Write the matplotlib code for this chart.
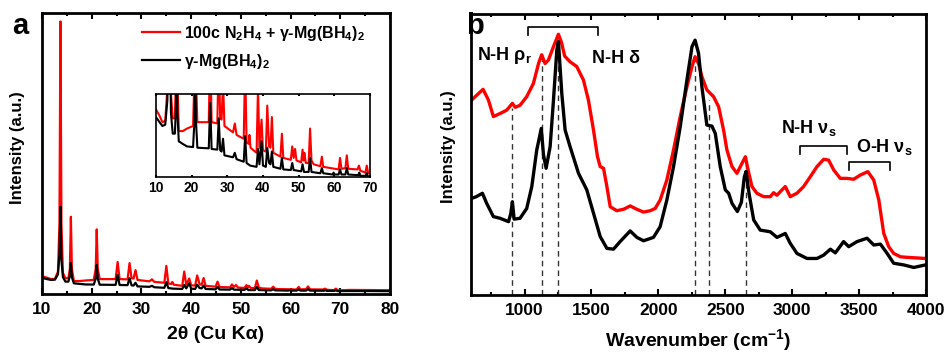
import matplotlib
matplotlib.use("Agg")
import matplotlib.pyplot as plt
from matplotlib.ticker import MultipleLocator

plt.rcParams['font.family'] = ['Liberation Sans', 'DejaVu Sans']
plt.rcParams['font.weight'] = 'bold'
plt.rcParams['mathtext.default'] = 'regular'

RED = '#ff0000'
BLACK = '#000000'

# ---- panel a: XRD, (2theta, intensity) ----
xrd_red = [
    (10.0, 6.3), (11.0, 5.8), (11.8, 5.3), (12.6, 5.4), (13.2, 8.0), (13.5, 25), (13.7, 97),
    (13.9, 25), (14.2, 7.5), (14.7, 5.6), (15.3, 5.6), (15.6, 9), (15.8, 27.5), (16.0, 9),
    (16.4, 4.6), (17.5, 4.6), (18.7, 4.8), (20.4, 5.0), (20.8, 9), (21.0, 23), (21.2, 9),
    (21.6, 5.3), (24.8, 5.3), (25.2, 11.4), (25.6, 5.3), (27.2, 5.2), (27.6, 11), (28.0, 5.6),
    (28.4, 5.5), (28.8, 8.5), (29.2, 5.0), (31.6, 4.5), (32.1, 5.2), (32.6, 4.3), (34.6, 4.0),
    (35.0, 10), (35.4, 3.7), (36.0, 3.6), (36.2, 4.3), (36.5, 3.3), (38.2, 2.9), (38.6, 8),
    (39.0, 3.3), (39.6, 5.5), (40.0, 3.1), (40.8, 3.0), (41.2, 6.6), (41.7, 3.4), (42.1, 3.3),
    (42.5, 5.7), (42.9, 2.9), (44.9, 2.6), (45.3, 4.4), (45.7, 2.5), (47.8, 2.35), (48.2, 3.4),
    (48.6, 2.5), (49.0, 3.2), (49.4, 2.3), (50.7, 2.15), (51.1, 3.15), (51.4, 2.3), (51.6, 2.9),
    (52.0, 2.1), (52.8, 2.1), (53.2, 4.8), (53.6, 2.3), (54.2, 2.0), (56.1, 1.85), (56.5, 2.6),
    (56.9, 1.8), (61.2, 1.6), (61.6, 2.5), (62.0, 1.65), (63.1, 1.7), (63.5, 2.7), (63.9, 1.65),
    (66.5, 1.6), (66.9, 1.9), (67.3, 1.5), (68.7, 1.35), (69.1, 1.9), (69.5, 1.3), (72.0, 1.45),
    (76.0, 1.4), (80.0, 1.35),
]
xrd_black = [
    (10.0, 5.7), (11.0, 5.3), (11.8, 5.0), (12.6, 5.1), (13.2, 7.0), (13.5, 14), (13.7, 31),
    (13.9, 12), (14.2, 6.0), (14.7, 4.4), (15.3, 4.4), (15.6, 6.5), (15.8, 11), (16.0, 6.0),
    (16.4, 3.8), (17.5, 3.6), (18.7, 3.4), (20.4, 3.35), (20.8, 5.5), (21.0, 10.3), (21.2, 5.5),
    (21.6, 3.3), (24.8, 3.25), (25.2, 6.8), (25.6, 3.2), (27.2, 3.15), (27.6, 5.6), (28.0, 3.1),
    (28.4, 3.0), (28.8, 4.0), (29.2, 2.7), (31.6, 2.55), (32.1, 2.9), (32.6, 2.4), (34.6, 2.2),
    (35.0, 4.2), (35.4, 2.1), (36.4, 1.9), (38.2, 1.8), (38.6, 3.2), (39.0, 2.0), (39.6, 3.8),
    (40.0, 1.9), (40.8, 1.8), (41.2, 3.3), (41.7, 2.1), (42.1, 2.0), (42.5, 3.0), (42.9, 1.8),
    (44.9, 1.65), (45.3, 2.5), (45.7, 1.6), (47.8, 1.55), (48.2, 2.1), (48.6, 1.55), (50.7, 1.45),
    (51.1, 2.0), (51.5, 1.4), (52.8, 1.4), (53.2, 2.5), (53.6, 1.4), (56.1, 1.3), (56.5, 1.7),
    (56.9, 1.3), (59.5, 1.2), (59.8, 1.35), (60.1, 1.2), (61.2, 1.2), (61.6, 1.6), (62.0, 1.2),
    (63.1, 1.2), (63.5, 1.7), (63.9, 1.2), (66.7, 1.15), (67.0, 1.35), (67.3, 1.1), (68.8, 1.1),
    (69.1, 1.3), (69.4, 1.05), (72.0, 1.05), (76.0, 1.05), (80.0, 1.0),
]

# ---- panel b: FTIR, (wavenumber, intensity) ----
ir_red = [
    (605, 69.4), (640, 71), (690, 73.2), (730, 69.4), (767, 63.5), (817, 64.6), (867, 65.8),
    (909, 68.2), (930, 66.8), (966, 67.5), (1016, 70.6), (1066, 75.3), (1105, 82.5), (1128, 85.5),
    (1153, 82.4), (1178, 83.6), (1216, 88.4), (1253, 92.8), (1275, 90), (1300, 85), (1340, 83),
    (1390, 81.3), (1440, 76.5), (1477, 69.4), (1515, 58.7), (1545, 49.2), (1565, 45.7),
    (1590, 45.1), (1615, 38.6), (1640, 31.4), (1689, 30), (1739, 30.5), (1789, 31.7), (1839, 30.5),
    (1889, 29.5), (1939, 30), (1976, 30.8), (2013, 33.8), (2063, 40.9), (2113, 51.6), (2163, 63.5),
    (2213, 74.1), (2251, 81.3), (2274, 84.8), (2300, 82.4), (2325, 77.7), (2362, 73), (2412, 70.6),
    (2450, 67), (2487, 58.7), (2512, 51.6), (2550, 45.7), (2587, 43.3), (2625, 46.9), (2650, 49.2),
    (2670, 44.5), (2699, 38.6), (2736, 36.2), (2786, 35), (2836, 35), (2861, 36.4), (2886, 35.5),
    (2923, 37.4), (2948, 38.6), (2985, 35), (3035, 36.2), (3085, 38.6), (3135, 42.1), (3185, 45.7),
    (3235, 48.3), (3272, 48), (3310, 44.5), (3359, 41.5), (3409, 41.5), (3459, 41.2), (3509, 42.7),
    (3565, 43.9), (3609, 40.9), (3647, 33.8), (3684, 21.9), (3721, 17.2), (3758, 14.8),
    (3808, 13.6), (3858, 13.4), (3995, 13),
]
ir_black = [
    (605, 34.4), (640, 35), (685, 36.2), (717, 32.6), (767, 27.9), (817, 27.3), (880, 26.1),
    (897, 29), (909, 33.2), (922, 27), (966, 27.3), (1016, 30.8), (1054, 38.6), (1091, 51.6),
    (1125, 59.3), (1141, 50), (1161, 45.1), (1191, 52.8), (1216, 69.4), (1241, 87.2), (1253, 90.2),
    (1278, 71.8), (1303, 58.7), (1340, 52.8), (1403, 43.3), (1465, 37.4), (1515, 29.1),
    (1565, 20.8), (1615, 16.6), (1664, 16.3), (1714, 19), (1789, 22.8), (1839, 20.5), (1889, 19.3),
    (1963, 20.5), (2013, 24.3), (2063, 33.8), (2113, 45.7), (2163, 59.9), (2213, 76.5), (2251, 88.4),
    (2274, 90.7), (2300, 86), (2325, 74.1), (2362, 60.5), (2400, 60.1), (2425, 57.5), (2462, 45.7),
    (2500, 37.4), (2525, 36.2), (2550, 32.6), (2590, 29.7), (2620, 33), (2642, 42), (2655, 44),
    (2677, 36.2), (2712, 26.7), (2761, 23.1), (2836, 22.5), (2886, 20.5), (2948, 21.9), (2985, 18.4),
    (3035, 14.8), (3110, 13), (3185, 13), (3235, 14.2), (3285, 16.3), (3322, 15), (3384, 19),
    (3422, 17.2), (3484, 19), (3559, 20.2), (3609, 17.8), (3659, 18.1), (3709, 14.8), (3758, 11.3),
    (3833, 10.7), (3908, 9.8), (3995, 10.7),
]

# dashed marker lines: wavenumber and height they reach
dash_pos = [909, 1128, 1253, 2274, 2379, 2655]
dash_top = [66.5, 84.5, 91, 86, 69.5, 47.5]

label_red = r'100c N$_2$H$_4$ + γ-Mg(BH$_4$)$_2$'
label_black = r'γ-Mg(BH$_4$)$_2$'


def style_axis(ax, major, minor, size=12.5, lw=2.0):
    for s in ax.spines.values():
        s.set_linewidth(lw)
    ax.xaxis.set_major_locator(MultipleLocator(major))
    ax.xaxis.set_minor_locator(MultipleLocator(minor))
    ax.set_yticks([])
    ax.tick_params(axis='x', which='both', direction='in', top=True, width=1.5, pad=6,
                   labelsize=size)
    ax.tick_params(axis='x', which='major', length=4)
    ax.tick_params(axis='x', which='minor', length=2.5)
    for t in ax.get_xticklabels():
        t.set_fontweight('bold')


fig = plt.figure(figsize=(9.47, 3.57), dpi=100)

# panel a
ax1 = fig.add_axes([0.0444, 0.1765, 0.3675, 0.787])
x, y = zip(*xrd_red)
ax1.plot(x, y, color=RED, lw=1.6, label=label_red)
x, y = zip(*xrd_black)
ax1.plot(x, y, color=BLACK, lw=1.6, label=label_black)
ax1.set_xlim(10, 80)
ax1.set_ylim(0, 100)
style_axis(ax1, 10, 5)
ax1.set_xlabel('2θ (Cu Kα)', fontsize=14, fontweight='bold', labelpad=6)
ax1.set_ylabel('Intensity (a.u.)', fontsize=12, fontweight='bold')
ax1.yaxis.set_label_coords(-0.049, 0.52)
ax1.legend(loc='upper left', bbox_to_anchor=(0.26, 0.995), frameon=False,
           handlelength=2.4, handletextpad=0.25, labelspacing=0.55, borderaxespad=0.2,
           prop={'weight': 'bold', 'size': 11.5})

# inset
axin = fig.add_axes([0.1647, 0.504, 0.226, 0.2325])
x, y = zip(*xrd_red)
axin.plot(x, y, color=RED, lw=1.5)
x, y = zip(*xrd_black)
axin.plot(x, y, color=BLACK, lw=1.5)
axin.set_xlim(10, 70)
axin.set_ylim(1.0, 7.5)
style_axis(axin, 10, 10, size=10, lw=1.2)
axin.tick_params(axis='x', which='both', length=1.5, pad=3)

# panel b
ax2 = fig.add_axes([0.4974, 0.1737, 0.4805, 0.787])
for xv, top in zip(dash_pos, dash_top):
    ax2.plot([xv, xv], [0, top], color='#333333', lw=1.0, ls=(0, (4, 3)))
x, y = zip(*ir_red)
ax2.plot(x, y, color=RED, lw=2.4, solid_joinstyle='round')
x, y = zip(*ir_black)
ax2.plot(x, y, color=BLACK, lw=2.4, solid_joinstyle='round')
ax2.set_xlim(600, 4000)
ax2.set_ylim(0, 100)
style_axis(ax2, 500, 250)
ax2.set_xlabel('Wavenumber (cm$^{-1}$)', fontsize=14, fontweight='bold', labelpad=6)
ax2.set_ylabel('Intensity (a.u.)', fontsize=12, fontweight='bold')
ax2.yaxis.set_label_coords(-0.033, 0.528)

# brackets and band labels
ax2.plot([1028, 1028, 1547, 1547], [92.5, 95.3, 95.3, 92.5], color=BLACK, lw=1.2)
ax2.plot([3060, 3060, 3409, 3409], [50.2, 53.1, 53.1, 50.2], color=BLACK, lw=1.2)
ax2.plot([3422, 3422, 3733, 3733], [44.5, 47.2, 47.2, 44.5], color=BLACK, lw=1.2)
ax2.text(645, 83.6, r'N-H ρ$_r$', fontsize=13, fontweight='bold', va='baseline')
ax2.text(1505, 82.7, 'N-H δ', fontsize=13, fontweight='bold', va='baseline')
ax2.text(2915, 57.8, r'N-H ν$_s$', fontsize=13, fontweight='bold', va='baseline')
ax2.text(3478, 51.0, r'O-H ν$_s$', fontsize=13, fontweight='bold', va='baseline')

fig.text(0.013, 0.905, 'a', fontsize=21, fontweight='bold')
fig.text(0.492, 0.905, 'b', fontsize=21, fontweight='bold')

fig.savefig('out.png', dpi=100)
